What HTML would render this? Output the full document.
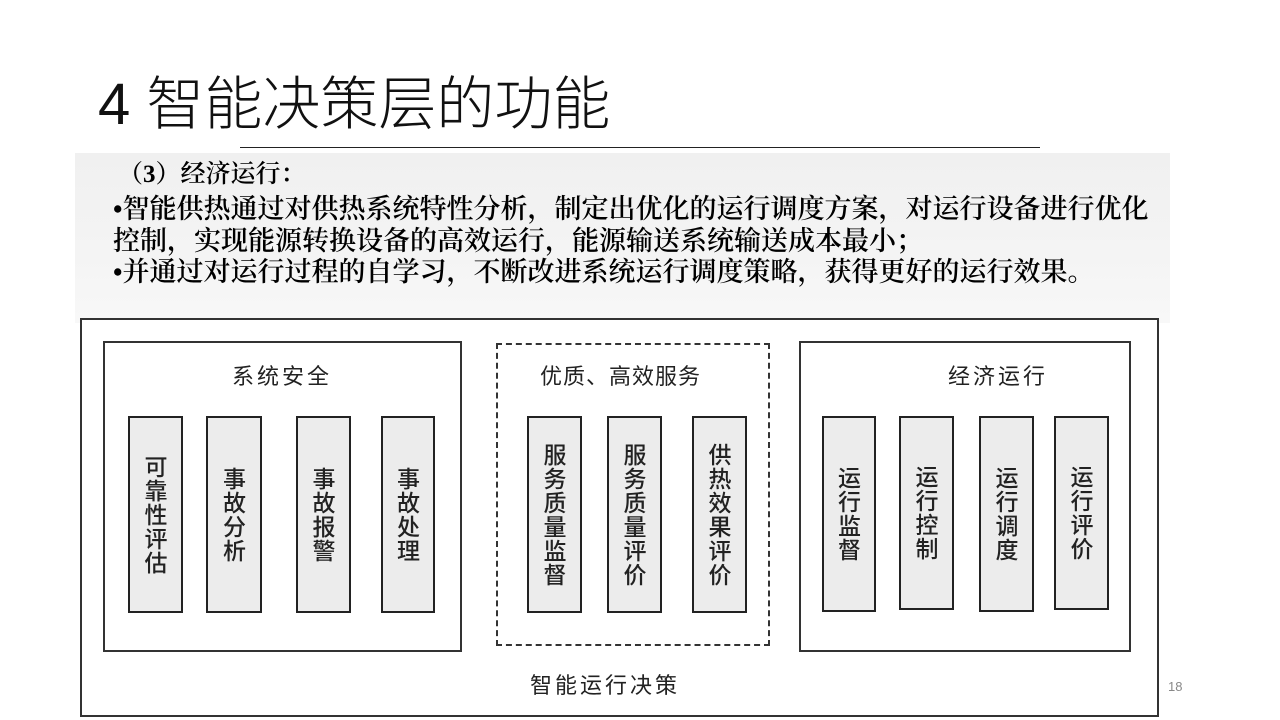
<!DOCTYPE html>
<html><head><meta charset="utf-8"><style>
body{margin:0;width:1280px;height:720px;background:#fff;position:relative;overflow:hidden;font-family:"Liberation Sans","Noto Sans CJK SC",sans-serif;}
.a{position:absolute;box-sizing:border-box;}
.box{border:2px solid #333;}
.bar{border:2px solid #222;background:#ececec;display:flex;align-items:center;justify-content:center;}
.bar span{writing-mode:vertical-rl;font-size:23px;line-height:1;color:#222;letter-spacing:1px;font-family:"Noto Sans CJK SC",sans-serif;font-weight:500;}
.lbl{font-size:22px;color:#222;letter-spacing:3px;white-space:nowrap;font-family:"Noto Sans CJK SC",sans-serif;}
.t{font-family:"Liberation Serif","Noto Serif CJK SC",serif;font-weight:600;font-size:27px;color:#000;white-space:nowrap;position:absolute;line-height:1;}
</style></head><body>
<div class="a" style="left:98px;top:73px;font-size:58px;line-height:1.1;color:#111;white-space:nowrap;font-family:'Liberation Sans','Noto Sans CJK SC',sans-serif;font-weight:300;">4 智能决策层的功能</div>
<div class="a" style="left:240px;top:147px;width:800px;height:1px;background:#222;"></div>
<div class="a" style="left:75px;top:153px;width:1095px;height:170px;background:linear-gradient(180deg,#f0f0f0 0%,#f4f4f4 60%,#f8f8f8 100%);"></div>
<div class="t" style="left:118px;top:162px;font-size:25px;">（3）经济运行：</div>
<div class="t" style="left:113px;top:196px;">•智能供热通过对供热系统特性分析，制定出优化的运行调度方案，对运行设备进行优化</div>
<div class="t" style="left:113px;top:228px;">控制，实现能源转换设备的高效运行，能源输送系统输送成本最小；</div>
<div class="t" style="left:113px;top:259px;">•并通过对运行过程的自学习，不断改进系统运行调度策略，获得更好的运行效果。</div>

<div class="a box" style="left:80px;top:318px;width:1079px;height:399px;background:#fff;"></div>
<div class="a box" style="left:103px;top:341px;width:359px;height:311px;"></div>
<div class="a" style="left:496px;top:343px;width:274px;height:303px;border:2px dashed #333;"></div>
<div class="a box" style="left:799px;top:341px;width:332px;height:311px;"></div>

<div class="a lbl" style="left:232px;top:359px;">系统安全</div>
<div class="a lbl" style="left:540px;top:359px;letter-spacing:1px;">优质、高效服务</div>
<div class="a lbl" style="left:948px;top:359px;">经济运行</div>
<div class="a lbl" style="left:530px;top:668px;">智能运行决策</div>

<div class="a bar" style="left:128px;top:416px;width:55px;height:197px;"><span>可靠性评估</span></div>
<div class="a bar" style="left:206px;top:416px;width:56px;height:197px;"><span>事故分析</span></div>
<div class="a bar" style="left:296px;top:416px;width:55px;height:197px;"><span>事故报警</span></div>
<div class="a bar" style="left:381px;top:416px;width:54px;height:197px;"><span>事故处理</span></div>

<div class="a bar" style="left:527px;top:416px;width:55px;height:197px;"><span>服务质量监督</span></div>
<div class="a bar" style="left:607px;top:416px;width:55px;height:197px;"><span>服务质量评价</span></div>
<div class="a bar" style="left:692px;top:416px;width:55px;height:197px;"><span>供热效果评价</span></div>

<div class="a bar" style="left:822px;top:416px;width:54px;height:196px;"><span>运行监督</span></div>
<div class="a bar" style="left:899px;top:416px;width:55px;height:194px;"><span>运行控制</span></div>
<div class="a bar" style="left:979px;top:416px;width:55px;height:196px;"><span>运行调度</span></div>
<div class="a bar" style="left:1054px;top:416px;width:55px;height:194px;"><span>运行评价</span></div>

<div class="a" style="left:1168px;top:679px;font-size:13px;color:#888;">18</div>
</body></html>
